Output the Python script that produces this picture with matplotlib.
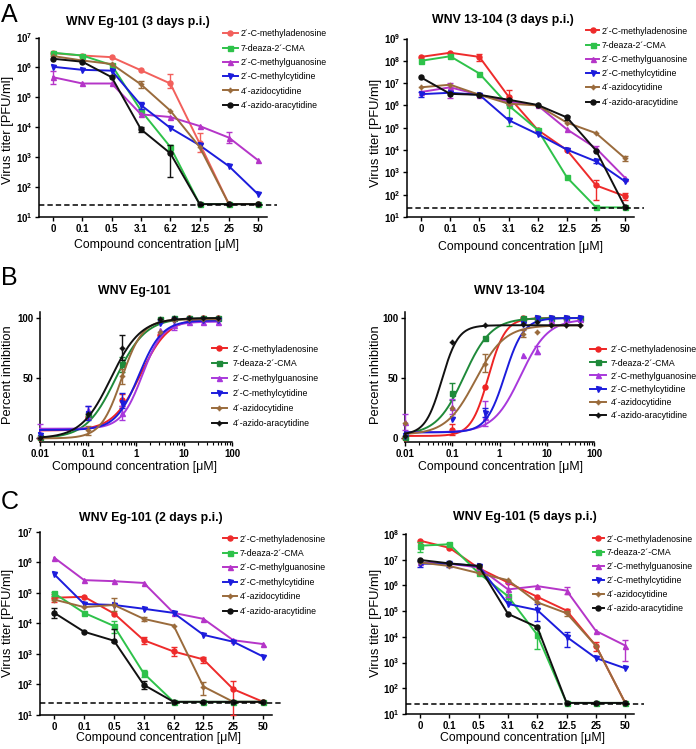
import numpy as np
import matplotlib
matplotlib.use('Agg')
import matplotlib.pyplot as plt
from matplotlib.lines import Line2D
from matplotlib.ticker import NullLocator, LogLocator, FixedLocator, FixedFormatter, NullFormatter

plt.rcParams['font.family'] = ['Liberation Sans', 'DejaVu Sans']
plt.rcParams['mathtext.fontset'] = 'custom'
plt.rcParams['mathtext.rm'] = 'Liberation Sans'
plt.rcParams['mathtext.bf'] = 'Liberation Sans:bold'
plt.rcParams['mathtext.it'] = 'Liberation Sans:italic'

# ---------------- data ----------------
compounds = ["2\u00b4-C-methyladenosine", "7-deaza-2\u00b4-CMA", "2\u00b4-C-methylguanosine",
             "2\u00b4-C-methylcytidine", "4\u00b4-azidocytidine", "4\u00b4-azido-aracytidine"]
conc_labels = ['0', '0.1', '0.5', '3.1', '6.2', '12.5', '25', '50']
detection_limit = 25

# Panel A left: WNV Eg-101 (3 days p.i.)  [PFU/ml]
a_eg_adenosine = [3.0e6, 2.5e6, 2.2e6, 8.0e5, 2.9e5, 2.9e3, 27, 27]
a_eg_deaza = [3.1e6, 2.5e6, 1.2e6, 3.6e4, 2.2e3, 27, 27, 27]
a_eg_guanosine = [4.7e5, 2.9e5, 2.9e5, 2.7e4, 2.2e4, 1.1e4, 4.5e3, 7.8e2]
a_eg_cytidine = [1.05e6, 8.3e5, 7.8e5, 5.5e4, 9.5e3, 2.5e3, 5.0e2, 57]
a_eg_azidocyt = [2.4e6, 1.7e6, 1.3e6, 2.7e5, 3.6e4, 2.2e3, 27, 27]
a_eg_azidoara = [1.95e6, 1.55e6, 4.7e5, 8.5e3, 1.35e3, 27, 27, 27]
# error bars: (series, concentration index, low, high)
a_eg_err = [(0, 4, 2.0e5, 6.0e5), (0, 5, 1.5e3, 6.5e3), (2, 0, 2.8e5, 7.5e5), (2, 6, 3.0e3, 6.8e3),
            (3, 3, 4.0e4, 7.0e4), (4, 3, 2.0e5, 3.6e5), (5, 4, 2.2e2, 2.6e3), (1, 4, 1.8e3, 2.6e3),
            (5, 3, 7.0e3, 1.0e4)]

# Panel A right: WNV 13-104 (3 days p.i.)
a_13_adenosine = [1.5e8, 2.3e8, 1.5e8, 2.5e6, 8.0e4, 1.0e4, 2.6e2, 85]
a_13_deaza = [1.0e8, 1.6e8, 2.7e7, 1.0e6, 8.0e4, 6.0e2, 27, 27]
a_13_guanosine = [4.0e6, 6.5e6, 3.0e6, 1.5e6, 1.0e6, 8.5e4, 1.2e4, 5.6e2]
a_13_cytidine = [3.2e6, 3.7e6, 3.0e6, 2.2e5, 5.2e4, 1.05e4, 3.1e3, 3.9e2]
a_13_azidocyt = [6.5e6, 8.5e6, 3.0e6, 1.2e6, 1.0e6, 1.7e5, 5.7e4, 4.2e3]
a_13_azidoara = [1.8e7, 3.3e6, 3.0e6, 1.8e6, 1.05e6, 2.9e5, 9.5e3, 27]
a_13_err = [(0, 2, 1.0e8, 2.0e8), (0, 3, 1.5e6, 5.0e6), (0, 6, 60, 4.5e2), (0, 7, 60, 1.2e2),
            (1, 3, 1.2e5, 1.0e6), (2, 1, 2.2e6, 1.0e7), (5, 5, 2.2e5, 3.5e5), (2, 6, 9.0e3, 1.5e4),
            (3, 6, 2.5e3, 3.8e3), (4, 7, 3.2e3, 5.5e3), (3, 0, 2.5e6, 4.2e6)]

# Panel B: percent inhibition
b_conc = [0.01, 0.1, 0.5, 3.1, 6.2, 12.5, 25, 50]
b_eg_adenosine = [0, 18, 32, 86, 99, 100, 100, 100]
b_eg_deaza = [1, 20, 62, 99, 100, 100, 100, 100]
b_eg_guanosine = [3, 24, 21, 90, 94, 97, 97, 97]
b_eg_cytidine = [3, 20, 29, 96, 98, 98, 98, 98]
b_eg_azidocyt = [0, 7, 52, 88, 98, 99, 99, 99]
b_eg_azidoara = [0, 20, 75, 99, 100, 100, 100, 100]
b_eg_err = [(2, 0, 0, 12), (2, 1, 17, 27), (3, 1, 15, 27), (0, 2, 27, 37), (3, 2, 25, 38),
            (2, 2, 15, 27), (5, 2, 65, 86), (1, 2, 55, 68), (4, 1, 3, 10), (4, 2, 45, 58), (2, 4, 90, 98)]
# fitted dose-response parameters (bottom, top, EC50 [uM], Hill slope)
b_eg_bottom = [6.5, 0, 8, 7, 0, 0]
b_eg_top = [100, 100, 97, 98, 99, 100]
b_eg_ec50 = [1.25, 0.38, 1.35, 1.15, 0.50, 0.30]
b_eg_hill = [1.5, 1.4, 2.0, 1.8, 2.0, 1.4]

b_13_adenosine = [0, 7, 43, 100, 100, 100, 100, 100]
b_13_deaza = [1, 38, 83, 100, 100, 100, 100, 100]
b_13_guanosine = [14, 26, 18, 69, 73, 98, 99, 99]
b_13_cytidine = [2, 16, 21, 95, 100, 100, 100, 100]
b_13_azidocyt = [13, 25, 62, 87, 88, 94, 94, 94]
b_13_azidoara = [2, 80, 94, 95, 97, 94, 94, 94]
b_13_err = [(2, 0, 7, 20), (1, 1, 32, 46), (2, 1, 20, 33), (0, 1, 3, 12), (4, 2, 55, 70),
            (2, 2, 10, 31), (3, 2, 18, 25), (2, 4, 70, 77), (4, 3, 84, 90)]
b_13_bottom = [2, 3, 5, 5, 3, 3]
b_13_top = [100, 100, 99, 100, 94, 94]
b_13_ec50 = [0.58, 0.177, 2.8, 1.3, 0.31, 0.06]
b_13_hill = [2.4, 1.5, 1.5, 2.2, 1.4, 2.5]

# Panel C left: WNV Eg-101 (2 days p.i.)
c2_adenosine = [6.9e4, 7.4e4, 2.1e4, 2.8e3, 1.2e3, 6.6e2, 70, 27]
c2_deaza = [9.5e4, 2.2e4, 8.2e3, 2.3e2, 27, 27, 27, 27]
c2_guanosine = [1.4e6, 2.6e5, 2.4e5, 2.1e5, 2.2e4, 1.4e4, 2.8e3, 2.1e3]
c2_cytidine = [4.0e5, 4.3e4, 4.0e4, 3.0e4, 2.2e4, 4.2e3, 2.5e3, 8.2e2]
c2_azidocyt = [6.0e4, 3.4e4, 4.0e4, 1.4e4, 8.5e3, 85, 27, 27]
c2_azidoara = [2.2e4, 5.3e3, 2.7e3, 97, 27, 27, 27, 27]
c2_err = [(0, 0, 5.0e4, 9.0e4), (0, 3, 2.1e3, 3.6e3), (0, 4, 8.5e2, 1.7e3), (0, 5, 5.0e2, 8.0e2),
          (0, 6, 10, 1.3e2), (1, 0, 8.0e4, 1.1e5), (1, 2, 5.0e3, 1.2e4), (1, 3, 1.8e2, 3.0e2),
          (4, 2, 2.5e4, 7.0e4), (4, 5, 45, 1.2e2), (5, 0, 1.5e4, 3.1e4), (5, 2, 2.4e3, 6.5e3),
          (5, 3, 70, 1.3e2), (4, 3, 1.15e4, 1.6e4)]

# Panel C right: WNV Eg-101 (5 days p.i.)
c5_adenosine = [5.5e7, 2.9e7, 4.7e6, 1.3e6, 3.6e5, 1.05e5, 4.5e3, 27]
c5_deaza = [3.5e7, 4.0e7, 3.0e6, 3.8e5, 1.2e4, 27, 27, 27]
c5_guanosine = [7.8e6, 7.0e6, 5.0e6, 7.0e5, 9.4e5, 6.3e5, 1.7e4, 4.6e3]
c5_cytidine = [7.0e6, 7.0e6, 5.7e6, 1.9e5, 1.1e5, 1.0e4, 1.5e3, 6.0e2]
c5_azidocyt = [7.8e6, 5.7e6, 3.0e6, 1.6e6, 2.2e5, 8.3e4, 4.5e3, 27]
c5_azidoara = [9.8e6, 7.2e6, 5.7e6, 7.8e4, 2.4e4, 27, 27, 27]
c5_err = [(1, 0, 2.0e7, 5.0e7), (1, 1, 3.5e7, 4.5e7), (3, 0, 5.0e6, 9.0e6), (3, 1, 5.0e6, 9.0e6),
          (2, 3, 3.5e5, 1.2e6), (2, 5, 4.5e5, 9.0e5), (3, 4, 4.0e4, 1.9e5), (1, 4, 3.5e3, 2.2e4),
          (3, 5, 4.0e3, 1.6e4), (2, 7, 1.2e3, 7.5e3), (0, 6, 2.8e3, 6.5e3), (1, 3, 2.5e5, 4.5e5),
          (4, 5, 6.5e4, 1.0e5), (0, 5, 8.5e4, 1.2e5)]

# ---------------- style ----------------
colors_titer = ['#ee2b2b', '#2ec24a', '#b535c8', '#1c1cdc', '#9a6b3c', '#111111']
colors_titer_a1 = ['#f2605c', '#2ec24a', '#b535c8', '#1c1cdc', '#9a6b3c', '#111111']
colors_dr = ['#ee2424', '#1f8a3a', '#a838dc', '#1c1cdc', '#9a6b3c', '#111111']
markers_titer = ['o', 's', '^', 'v', (4, 1, 0), 'o']
markers_dr = ['o', 's', '^', 'v', (4, 1, 0), (4, 1, 0)]

W, H = 696, 749
fig = plt.figure(figsize=(W / 100, H / 100), dpi=100)

TICK_FS = 7.0
LEG_FS = 6.3
LAB_FS = 8.8
YLAB_FS = 9.3
TITLE_FS = 8.8


def rect(l, t, r, b):
    return [l / W, (H - b) / H, (r - l) / W, (b - t) / H]


def style_axes(ax):
    for s in ['top', 'right']:
        ax.spines[s].set_visible(False)
    for s in ['left', 'bottom']:
        ax.spines[s].set_linewidth(1.1)
    ax.tick_params(axis='both', which='major', length=3.2, width=1.0, pad=1.5, labelsize=TICK_FS)
    ax.tick_params(axis='both', which='minor', length=2.0, width=0.8)
    for lab in ax.get_xticklabels() + ax.get_yticklabels():
        lab.set_fontweight('bold')


def legend_at(ax, handles, x, ytop, spacing, hlen, tpad):
    ax.legend(handles=handles, labels=compounds, loc='upper left',
              bbox_to_anchor=(x / W, 1 - ytop / H), bbox_transform=fig.transFigure,
              frameon=False, fontsize=LEG_FS, handlelength=hlen, handletextpad=tpad,
              labelspacing=spacing, borderpad=0, borderaxespad=0, numpoints=1)


def titer_panel(r, series, errs, top_dec, colors, title, tpos, xlpos, ylpos, leg):
    ax = fig.add_axes(r)
    x = np.arange(len(conc_labels))
    for i, vals in enumerate(series):
        ax.plot(x, vals, color=colors[i], marker=markers_titer[i], ms=3.6, lw=1.4,
                clip_on=False, zorder=3 + i)
    for (si, xi, lo, hi) in errs:
        v = series[si][xi]
        ax.errorbar([xi], [v], yerr=[[v - lo], [hi - v]], fmt='none', ecolor=colors[si],
                    elinewidth=1.0, capsize=2.2, capthick=1.0, zorder=3 + si, clip_on=False)
    ax.plot([-0.48, 7.65], [detection_limit, detection_limit], color='black', lw=1.1,
            dashes=(3.5, 2), clip_on=False, zorder=10)
    ax.set_yscale('log')
    ax.set_ylim(10, 10 ** top_dec)
    ax.set_xlim(-0.48, 7.3)
    decs = list(range(1, top_dec + 1))
    ax.yaxis.set_major_locator(FixedLocator([10.0 ** d for d in decs]))
    ax.yaxis.set_major_formatter(FixedFormatter([r'$\mathbf{10^{%d}}$' % d for d in decs]))
    ax.yaxis.set_minor_locator(NullLocator())
    ax.set_xticks(x)
    ax.set_xticklabels(conc_labels)
    style_axes(ax)
    fig.text(tpos[0] / W, 1 - tpos[1] / H, title, ha='center', va='center',
             fontsize=TITLE_FS, fontweight='bold')
    fig.text(xlpos[0] / W, 1 - xlpos[1] / H, 'Compound concentration [\u03bcM]',
             ha='center', va='center', fontsize=LAB_FS)
    fig.text(ylpos[0] / W, 1 - ylpos[1] / H, 'Virus titer [PFU/ml]', ha='center', va='center',
             fontsize=YLAB_FS, rotation=90)
    handles = [Line2D([], [], color=colors[i], marker=markers_titer[i], ms=3.6, lw=1.4)
               for i in range(6)]
    legend_at(ax, handles, *leg)
    return ax


def dr_panel(r, points, bottoms, tops, ec50s, hills, errs, title, tpos, xlpos, ylpos, leg):
    ax = fig.add_axes(r)
    ax.set_xscale('log')
    xs = np.logspace(-2, np.log10(50), 400)
    for i, vals in enumerate(points):
        curve = bottoms[i] + (tops[i] - bottoms[i]) / (1 + (ec50s[i] / xs) ** hills[i])
        ax.plot(xs, curve, color=colors_dr[i], lw=1.4, zorder=3 + i, clip_on=False)
        ax.plot(b_conc, vals, ls='none', color=colors_dr[i], marker=markers_dr[i], ms=3.6,
                zorder=3 + i, clip_on=False)
    for (si, xi, lo, hi) in errs:
        v = points[si][xi]
        ax.errorbar([b_conc[xi]], [v], yerr=[[max(v - lo, 0)], [max(hi - v, 0)]], fmt='none',
                    ecolor=colors_dr[si], elinewidth=1.0, capsize=2.2, capthick=1.0,
                    zorder=3 + si, clip_on=False)
    ax.set_xlim(0.01, 100)
    ax.set_ylim(-3, 105)
    ax.xaxis.set_major_locator(FixedLocator([0.01, 0.1, 1, 10, 100]))
    ax.xaxis.set_major_formatter(FixedFormatter(['0.01', '0.1', '1', '10', '100']))
    ax.xaxis.set_minor_locator(LogLocator(base=10, subs=np.arange(2, 10)))
    ax.xaxis.set_minor_formatter(NullFormatter())
    ax.set_yticks([0, 50, 100])
    ax.set_yticklabels(['0', '50', '100'])
    style_axes(ax)
    fig.text(tpos[0] / W, 1 - tpos[1] / H, title, ha='center', va='center',
             fontsize=TITLE_FS, fontweight='bold')
    fig.text(xlpos[0] / W, 1 - xlpos[1] / H, 'Compound concentration [\u03bcM]',
             ha='center', va='center', fontsize=LAB_FS)
    fig.text(ylpos[0] / W, 1 - ylpos[1] / H, 'Percent inhibition', ha='center', va='center',
             fontsize=YLAB_FS, rotation=90)
    handles = [Line2D([], [], color=colors_dr[i], marker=markers_dr[i], ms=3.6, lw=1.4)
               for i in range(6)]
    legend_at(ax, handles, *leg)
    return ax


# ---------------- panels ----------------
titer_panel(rect(39, 37.5, 267, 217),
            [a_eg_adenosine, a_eg_deaza, a_eg_guanosine, a_eg_cytidine, a_eg_azidocyt, a_eg_azidoara],
            a_eg_err, 7, colors_titer_a1, 'WNV Eg-101 (3 days p.i.)',
            (138, 22), (156, 245), (8, 130), (223, 29.5, 0.6, 1.7, 0.35))

titer_panel(rect(407, 38.5, 634, 217),
            [a_13_adenosine, a_13_deaza, a_13_guanosine, a_13_cytidine, a_13_azidocyt, a_13_azidoara],
            a_13_err, 9, colors_titer, 'WNV 13-104 (3 days p.i.)',
            (503, 20), (521, 247), (376, 133), (586, 26.5, 0.6, 1.5, 0.25))

dr_panel(rect(40, 312, 232, 442),
         [b_eg_adenosine, b_eg_deaza, b_eg_guanosine, b_eg_cytidine, b_eg_azidocyt, b_eg_azidoara],
         b_eg_bottom, b_eg_top, b_eg_ec50, b_eg_hill, b_eg_err, 'WNV Eg-101',
         (134, 291), (135, 467), (8, 375), (212, 344.5, 0.68, 1.7, 0.65))

dr_panel(rect(405, 312, 594, 442),
         [b_13_adenosine, b_13_deaza, b_13_guanosine, b_13_cytidine, b_13_azidocyt, b_13_azidoara],
         b_13_bottom, b_13_top, b_13_ec50, b_13_hill, b_13_err, 'WNV 13-104',
         (509, 291), (501, 467), (376, 375), (590, 345.5, 0.46, 1.8, 0.55))

titer_panel(rect(40, 531.7, 272, 715),
            [c2_adenosine, c2_deaza, c2_guanosine, c2_cytidine, c2_azidocyt, c2_azidoara],
            c2_err, 7, colors_titer, 'WNV Eg-101 (2 days p.i.)',
            (151, 518), (158, 738), (8, 623), (223, 534.5, 0.62, 1.6, 0.3))

titer_panel(rect(406, 534, 634, 714),
            [c5_adenosine, c5_deaza, c5_guanosine, c5_cytidine, c5_azidocyt, c5_azidoara],
            c5_err, 8, colors_titer, 'WNV Eg-101 (5 days p.i.)',
            (525, 517), (523, 738), (376, 623), (593, 534.5, 0.57, 1.2, 0.35))

# panel letters
for letter, yb in [('A', 22), ('B', 285), ('C', 509)]:
    fig.text(1 / W, 1 - yb / H, letter, fontsize=18, ha='left', va='baseline')

fig.savefig('out.png', dpi=100)
